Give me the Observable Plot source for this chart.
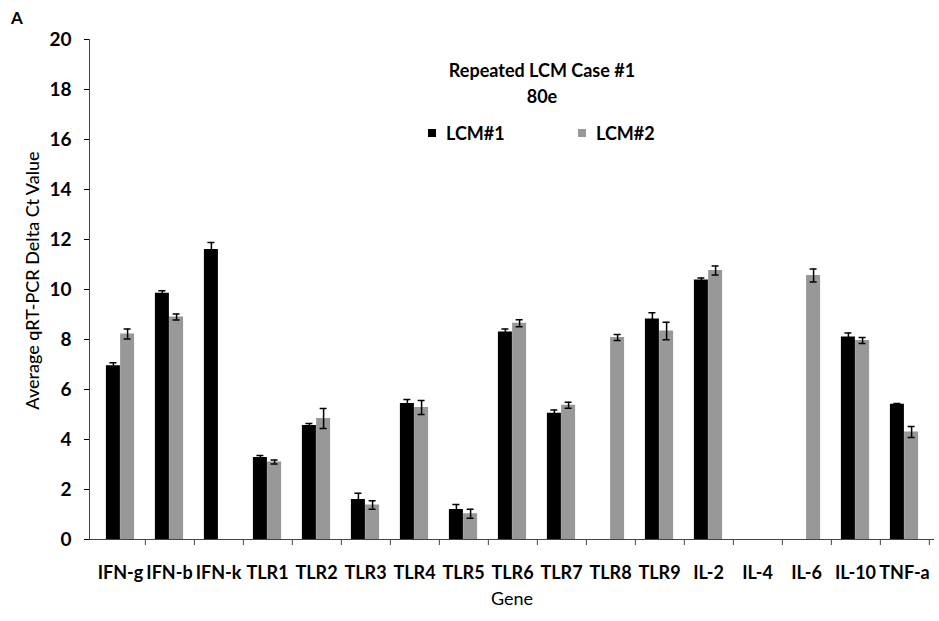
<!DOCTYPE html>
<html><head><meta charset="utf-8">
<script src="https://cdn.jsdelivr.net/npm/d3@7"></script>
<script src="https://cdn.jsdelivr.net/npm/@observablehq/plot@0.6"></script>
<style>
body{margin:0;background:#fff;font-family:Lato,"DejaVu Sans",sans-serif}
#wrap{position:relative;width:939px;height:621px;overflow:hidden}
.t{position:absolute;font-weight:700;color:#000;white-space:nowrap;font-family:Lato,sans-serif}
.sw{display:inline-block;width:8px;height:8px;vertical-align:middle;margin-right:10px;position:relative;top:-2px}
</style></head><body>
<div id="wrap">
<div id="chart"></div>
<div class="t" style="left:11px;top:8px;font-size:17px;line-height:20px">A</div>
<div class="t" style="left:542px;top:57px;transform:translateX(-50%);text-align:center;font-size:18px;line-height:26px">Repeated LCM Case #1<br>80e</div>
<div class="t" id="leg1" style="left:428px;top:120px;font-size:18px;line-height:26px"></div>
<div class="t" id="leg2" style="left:578px;top:120px;font-size:18px;line-height:26px"></div>
</div>
<script>
const genes = ["IFN-g","IFN-b","IFN-k","TLR1","TLR2","TLR3","TLR4","TLR5","TLR6","TLR7","TLR8","TLR9","IL-2","IL-4","IL-6","IL-10","TNF-a"];
const seriesNames = ["LCM#1","LCM#2"];
const lcm1    = [6.95, 9.85, 11.6, 3.28, 4.56, 1.6, 5.44, 1.2, 8.3, 5.05, null, 8.82, 10.38, null, null, 8.1, 5.41];
const lcm1Err = [0.12, 0.1, 0.28, 0.08, 0.08, 0.25, 0.16, 0.2, 0.12, 0.13, null, 0.25, 0.08, null, null, 0.16, 0.03];
const lcm2    = [8.22, 8.9, null, 3.1, 4.84, 1.38, 5.28, 1.03, 8.65, 5.37, 8.08, 8.34, 10.76, null, 10.56, 7.96, 4.3];
const lcm2Err = [0.2, 0.12, null, 0.08, 0.4, 0.17, 0.28, 0.18, 0.14, 0.12, 0.12, 0.35, 0.18, null, 0.26, 0.12, 0.22];
const yTicks = [0,2,4,6,8,10,12,14,16,18,20];
const colors = ["#000000","#989898"];
const yLabel = "Average qRT-PCR Delta Ct Value";
const xLabel = "Gene";

const rows = [];
genes.forEach((g,i)=>{
  if (lcm1[i]!=null) rows.push({gene:g, series:seriesNames[0], value:lcm1[i], err:lcm1Err[i]});
  if (lcm2[i]!=null) rows.push({gene:g, series:seriesNames[1], value:lcm2[i], err:lcm2Err[i]});
});

const W=939, H=621, mLeft=89, xRight=934, mTop=39, yBottom=539;
const step=(xRight-mLeft)/genes.length, bw=14.2, pin=1-bw/step;

const seriesMarks = seriesNames.flatMap((s,k)=>{
  const data = rows.filter(d=>d.series===s);
  const dx = k===0 ? -bw/2 : bw/2;
  return [
    Plot.barY(data, {x:"gene", y:"value", fill:colors[k], dx}),
    Plot.ruleX(data, {x:"gene", y1:d=>d.value-d.err, y2:d=>d.value+d.err, dx, stroke:"#000", strokeWidth:1.5}),
    Plot.tickY(data, {x:"gene", y:d=>d.value+d.err, dx, insetLeft:3.5, insetRight:3.5, stroke:"#000", strokeWidth:1.5}),
    Plot.tickY(data, {x:"gene", y:d=>d.value-d.err, dx, insetLeft:3.5, insetRight:3.5, stroke:"#000", strokeWidth:1.5})
  ];
});

const chart = Plot.plot({
  width:W, height:H,
  marginLeft:mLeft, marginRight:W-xRight, marginTop:mTop, marginBottom:H-yBottom,
  style:{background:"#fff", color:"#000", fontFamily:"Lato, sans-serif", fontSize:"19px", fontWeight:700},
  x:{domain:genes, paddingInner:pin, paddingOuter:pin/2},
  y:{domain:[0,20]},
  marks:[
    ...seriesMarks,
    Plot.axisY({ticks:yTicks, tickSize:5, tickPadding:13, label:null, fontSize:19}),
    Plot.axisX({tickSize:0, tickPadding:27, label:null, fontSize:18}),
    Plot.axisX({tickSize:6, tickFormat:()=>"", label:null, dx:step/2, stroke:"#444"}),
    Plot.frame({anchor:"left", stroke:"#444"}),
    Plot.ruleY([0], {stroke:"#444"}),
    Plot.text([yLabel], {frameAnchor:"left", textAnchor:"middle", dx:-56, dy:-9, rotate:-90, fontSize:18, fontWeight:500, fill:"#000"}),
    Plot.text([xLabel], {frameAnchor:"bottom", dy:65, fontSize:18, fontWeight:400, fill:"#000"})
  ]
});
document.getElementById("chart").appendChild(chart);
[["leg1",0],["leg2",1]].forEach(([id,k])=>{
  const el=document.getElementById(id);
  el.innerHTML = `<span class="sw" style="background:${colors[k]}"></span>${seriesNames[k]}`;
});
</script>
</body></html>
